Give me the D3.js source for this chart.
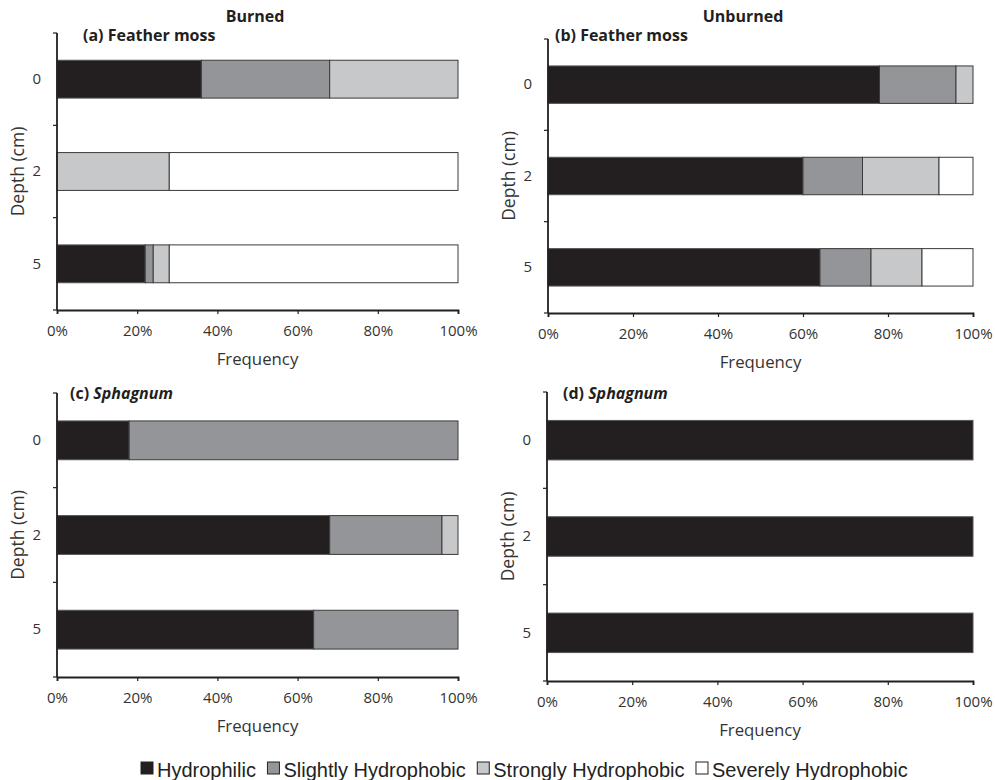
<!DOCTYPE html>
<html>
<head>
<meta charset="utf-8">
<script src="https://cdn.jsdelivr.net/npm/d3@7"></script>
<style>
  html, body { margin: 0; padding: 0; background: #fff; }
  svg { display: block; }
  .tick text { font-family: "Open Sans", Lato, sans-serif; }
</style>
</head>
<body>
<svg id="chart" width="995" height="780"></svg>
<script>
// ---------------- DATA ----------------
const depths = ["0", "2", "5"];
const classes = ["Hydrophilic", "Slightly Hydrophobic", "Strongly Hydrophobic", "Severely Hydrophobic"];
const classColors = ["#231f20", "#939598", "#c7c8ca", "#ffffff"];
const xTickValues = [0, 20, 40, 60, 80, 100];

// rows = depth 0, 2, 5 ; columns = classes (percent)
const burnedFeatherMoss   = [[36, 32, 32, 0], [0, 0, 28, 72], [22, 2, 4, 72]];
const unburnedFeatherMoss = [[78, 18, 4, 0], [60, 14, 18, 8], [64, 12, 12, 12]];
const burnedSphagnum      = [[18, 82, 0, 0], [68, 28, 4, 0], [64, 36, 0, 0]];
const unburnedSphagnum    = [[100, 0, 0, 0], [100, 0, 0, 0], [100, 0, 0, 0]];

const columnTitles = ["Burned", "Unburned"];

// ---------------- LAYOUT ----------------
const panels = [
  { data: burnedFeatherMoss,   tag: "(a)", name: "Feather moss", italic: false,
    left: 57, right: 458, top: 33, bottom: 310, labelX: 83, labelY: 41 },
  { data: unburnedFeatherMoss, tag: "(b)", name: "Feather moss", italic: false,
    left: 548, right: 973, top: 39, bottom: 313, labelX: 555, labelY: 41 },
  { data: burnedSphagnum,      tag: "(c)", name: "Sphagnum", italic: true,
    left: 57, right: 458, top: 393, bottom: 677, labelX: 70, labelY: 399 },
  { data: unburnedSphagnum,    tag: "(d)", name: "Sphagnum", italic: true,
    left: 547, right: 973, top: 392, bottom: 681, labelX: 563, labelY: 399 }
];

const svg = d3.select("#chart");
const ink = "#231f20";
const fontMain = "'Open Sans', Lato, sans-serif";

// column titles
const titleX = [255, 743];
columnTitles.forEach((t, i) => {
  svg.append("text")
    .attr("x", titleX[i]).attr("y", 22)
    .attr("text-anchor", "middle")
    .attr("font-family", fontMain).attr("font-weight", "bold")
    .attr("font-size", 16).attr("fill", ink)
    .text(t);
});

panels.forEach(p => {
  const g = svg.append("g");
  const x = d3.scaleLinear().domain([0, 100]).range([p.left, p.right]);
  const y = d3.scaleBand().domain(depths).range([p.top, p.bottom])
    .paddingInner(0.59).paddingOuter(0.295);

  // stacked bars
  p.data.forEach((row, ri) => {
    let cum = 0;
    row.forEach((v, ci) => {
      const x0 = cum; cum += v;
      if (v <= 0) return;
      g.append("rect")
        .attr("x", x(x0)).attr("width", x(cum) - x(x0))
        .attr("y", y(depths[ri])).attr("height", y.bandwidth())
        .attr("fill", classColors[ci])
        .attr("stroke", ci === 0 ? "#555" : "#3a3a3a")
        .attr("stroke-width", 1);
    });
  });

  // x axis
  const xAxis = d3.axisBottom(x).tickValues(xTickValues)
    .tickFormat(d => d + "%").tickSize(4).tickSizeOuter(4).tickPadding(11);
  const gx = g.append("g").attr("transform", `translate(0,${p.bottom})`).call(xAxis);
  gx.select(".domain").attr("stroke", ink).attr("stroke-width", 1.8);
  gx.selectAll(".tick line").attr("stroke", ink).attr("stroke-width", 1.2);
  gx.selectAll(".tick text").attr("font-size", 15).attr("fill", "#333");

  // y axis (labels at band centres, ticks at band boundaries)
  const yAxis = d3.axisLeft(y).tickSize(0).tickPadding(16);
  const gy = g.append("g").attr("transform", `translate(${p.left},0)`).call(yAxis);
  gy.select(".domain").attr("stroke", ink).attr("stroke-width", 1.8)
    .attr("d", `M0,${p.top}V${p.bottom}`);
  gy.selectAll(".tick text").attr("font-size", 15).attr("fill", "#333");
  const bounds = d3.range(depths.length + 1).map(i => y.range()[0] + i * y.step());
  g.selectAll(".ytk").data(bounds).join("line")
    .attr("x1", p.left - 4).attr("x2", p.left)
    .attr("y1", d => d).attr("y2", d => d)
    .attr("stroke", ink).attr("stroke-width", 1.2);

  // axis titles
  g.append("text")
    .attr("x", (p.left + p.right) / 2).attr("y", p.bottom + 55)
    .attr("text-anchor", "middle")
    .attr("font-family", fontMain).attr("font-size", 16.8).attr("fill", "#333")
    .text("Frequency");
  g.append("text")
    .attr("transform", `translate(${p.left - 39},${(p.top + p.bottom) / 2}) rotate(-90)`)
    .attr("text-anchor", "middle").attr("dy", "0.35em")
    .attr("font-family", fontMain).attr("font-size", 17.5).attr("fill", "#333")
    .text("Depth (cm)");

  // panel label
  const lab = g.append("text")
    .attr("x", p.labelX).attr("y", p.labelY)
    .attr("font-family", fontMain).attr("font-weight", "bold")
    .attr("font-size", 16).attr("fill", ink);
  lab.append("tspan").text(p.tag + " ");
  lab.append("tspan").attr("font-style", p.italic ? "italic" : "normal").text(p.name);
});

// legend
const legend = svg.append("g");
let lx = 141;
classes.forEach((c, i) => {
  legend.append("rect")
    .attr("x", lx).attr("y", 762).attr("width", 12).attr("height", 12)
    .attr("fill", classColors[i]).attr("stroke", "#222").attr("stroke-width", 1);
  const t = legend.append("text")
    .attr("x", lx + 16).attr("y", 776.5)
    .attr("font-family", "'Liberation Sans', Arial, sans-serif")
    .attr("font-size", 20).attr("fill", "#222")
    .text(c);
  lx += 16 + t.node().getComputedTextLength() + 11.5;
});
</script>
</body>
</html>
